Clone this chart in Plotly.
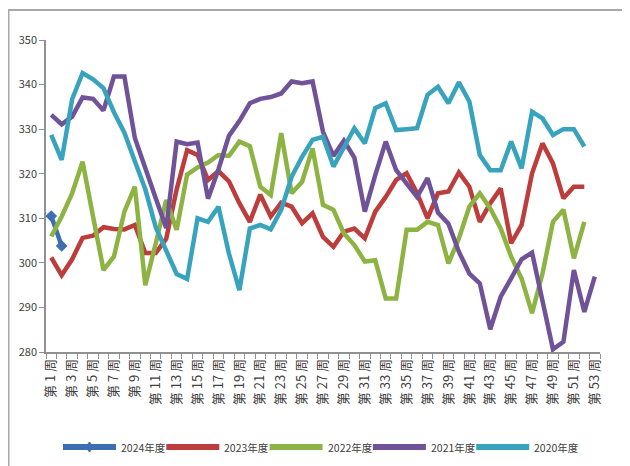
import plotly.graph_objects as go

weeks = [f"第 {i} 周" for i in range(1, 54)]
tick_text = [w if (i % 2 == 0) else "" for i, w in enumerate(weeks)]

s2024 = [310.5, 303.8]
s2023 = [301.2, 297.2, 300.8, 305.6, 306.1, 308.0, 307.6, 307.5, 308.5, 302.2,
         302.2, 305.4, 316.5, 325.3, 324.2, 318.6, 320.6, 318.3, 313.4, 309.2,
         315.3, 310.4, 313.5, 312.6, 308.9, 311.1, 305.8, 303.6, 307.0, 307.7,
         305.5, 311.5, 314.8, 318.6, 320.1, 315.6, 310.0, 315.6, 316.0, 320.3,
         317.1, 309.2, 313.4, 316.7, 304.4, 308.5, 320.1, 326.8, 322.3, 314.5,
         317.1, 317.1]
s2022 = [305.9, 310.4, 315.6, 322.7, 310.4, 298.4, 301.4, 311.5, 317.1, 295.0,
         304.4, 314.1, 307.4, 319.8, 321.4, 322.5, 324.2, 324.0, 327.2, 326.2,
         317.1, 315.2, 329.1, 315.6, 318.2, 325.7, 313.0, 311.9, 306.6, 304.0,
         300.3, 300.6, 292.0, 292.0, 307.4, 307.4, 309.2, 308.5, 299.9, 305.5,
         312.6, 315.6, 312.2, 307.7, 301.4, 296.5, 288.7, 297.6, 309.2, 311.9,
         301.0, 309.2]
s2021 = [333.2, 331.1, 332.8, 337.1, 336.8, 334.2, 341.8, 341.8, 328.0, 321.0,
         314.5, 307.8, 327.2, 326.6, 327.0, 314.4, 321.0, 328.5, 331.8, 335.8,
         336.8, 337.2, 338.0, 340.7, 340.3, 340.7, 329.4, 324.0, 327.4, 323.6,
         311.5, 319.7, 327.2, 320.8, 317.8, 314.8, 319.0, 311.3, 308.8, 302.5,
         297.6, 295.4, 285.1, 292.4, 296.5, 300.8, 302.3, 291.3, 280.6, 282.3,
         298.4, 289.0, 296.9]
s2020 = [328.7, 323.1, 336.7, 342.6, 341.2, 339.2, 333.8, 329.2, 322.8, 316.5,
         308.0, 302.5, 297.5, 296.4, 310.0, 309.2, 312.6, 302.1, 293.9, 307.7,
         308.5, 307.5, 311.9, 319.3, 323.8, 327.6, 328.3, 321.6, 326.1, 330.2,
         326.8, 334.7, 335.8, 329.8, 330.0, 330.2, 337.7, 339.5, 335.8, 340.5,
         336.2, 324.2, 320.8, 320.8, 327.2, 321.2, 333.9, 332.4, 328.7, 330.0,
         330.0, 326.1]

series = [
    ("2024年度", s2024, "#3d6fb0"),
    ("2023年度", s2023, "#bc3d3b"),
    ("2022年度", s2022, "#8db443"),
    ("2021年度", s2021, "#6f5298"),
    ("2020年度", s2020, "#38a3bd"),
]

# page body has an 8px margin; positions below are in figure pixels
OFF = 8
FW, FH = 630 - OFF, 466 - OFF
L, T, W, H = 46 - OFF, 40 - OFF, 554, 312
def px(x):
    return (x - OFF - L) / W
def py(y):
    return (T + H - (y - OFF)) / H

fig = go.Figure()
shapes = [
    dict(type="line", xref="paper", yref="paper", x0=px(8.5), x1=px(8.5), y0=py(10), y1=py(480),
         line=dict(color="#a8a8a8", width=2)),
    dict(type="line", xref="paper", yref="paper", x0=px(8), x1=px(640), y0=py(10), y1=py(10),
         line=dict(color="#a8a8a8", width=2)),
]
annotations = []
leg_y = 447
for k, (name, vals, col) in enumerate(series):
    if name == "2024年度":
        fig.add_trace(go.Scatter(x=weeks[:len(vals)], y=vals, name=name, mode="lines+markers",
                                 line=dict(color=col, width=4.5),
                                 marker=dict(symbol="diamond", size=9, color=col),
                                 showlegend=False))
    else:
        fig.add_trace(go.Scatter(x=weeks[:len(vals)], y=vals, name=name, mode="lines",
                                 line=dict(color=col, width=4.5), showlegend=False))
    x0 = 63 + k * 103.3
    x1 = x0 + 53
    shapes.append(dict(type="line", xref="paper", yref="paper", x0=px(x0), x1=px(x1),
                       y0=py(leg_y), y1=py(leg_y), line=dict(color=col, width=6)))
    if name == "2024年度":
        xm = (x0 + x1) / 2
        shapes.append(dict(type="path", xref="paper", yref="paper",
                           path=f"M {px(xm-4)} {py(leg_y)} L {px(xm)} {py(leg_y-5)} L {px(xm+4)} {py(leg_y)} L {px(xm)} {py(leg_y+5)} Z",
                           fillcolor=col, line=dict(color=col, width=1)))
    annotations.append(dict(xref="paper", yref="paper", x=px(x1 + 3), y=py(leg_y),
                            xanchor="left", yanchor="middle", showarrow=False, text=name,
                            font=dict(size=10.5, color="#404040")))

fig.update_layout(
    width=FW, height=FH,
    margin=dict(l=L, r=FW - L - W, t=T, b=FH - T - H),
    paper_bgcolor="white", plot_bgcolor="white",
    font=dict(family="Noto Sans CJK SC, Liberation Sans, sans-serif", size=11, color="#404040"),
    showlegend=False,
    shapes=shapes, annotations=annotations,
)
fig.update_xaxes(
    type="category", categoryorder="array", categoryarray=weeks,
    tickmode="array", tickvals=weeks, ticktext=tick_text,
    tickangle=-90, tickson="boundaries", ticks="outside", ticklen=5, tickcolor="#909090",
    showline=True, linecolor="#909090", linewidth=1.5, showgrid=False,
    tickfont=dict(size=13, color="#404040"), range=[-0.5, 52.5], automargin=False,
)
fig.update_yaxes(
    range=[280, 350], dtick=10, ticks="outside", ticklen=5, tickcolor="#909090",
    showline=True, linecolor="#909090", linewidth=1.5, showgrid=False, zeroline=False,
    tickfont=dict(size=11, color="#404040"), automargin=False,
)
fig.write_html("out.html")
